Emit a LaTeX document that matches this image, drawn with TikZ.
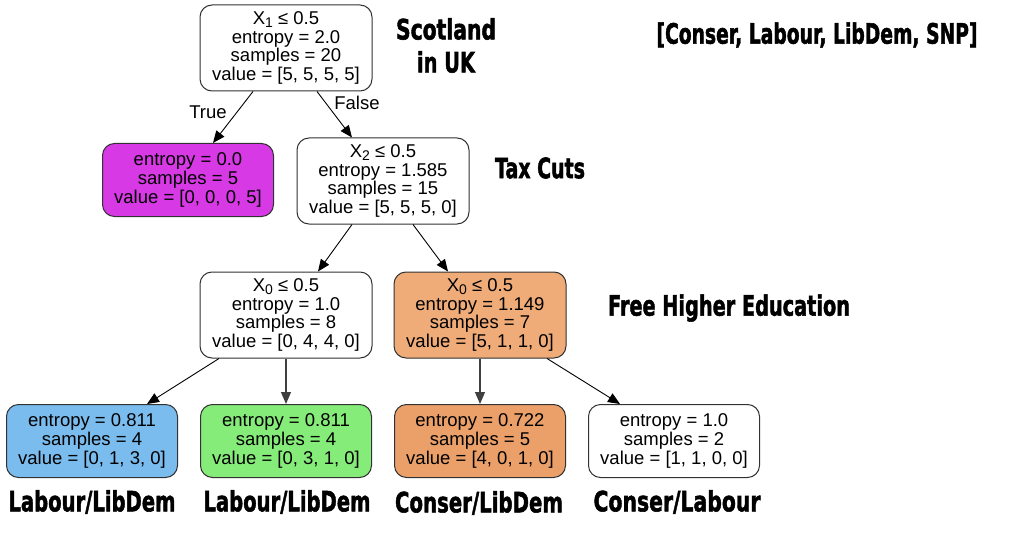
\documentclass[tikz,border=0pt]{standalone}
\usepackage{fontspec}
\usepackage{graphicx}
\setmainfont{Liberation Sans}
\newfontfamily\tagfont[FakeBold=2]{DejaVu Sans}
\usetikzlibrary{arrows.meta}
\definecolor{cpurple}{RGB}{215,57,229}
\definecolor{corangeA}{RGB}{239,172,121}
\definecolor{corangeB}{RGB}{235,160,106}
\definecolor{cblue}{RGB}{123,188,238}
\definecolor{cgreen}{RGB}{134,236,121}
\definecolor{cborder}{RGB}{50,50,50}
\newcommand\Xsub[1]{X\raisebox{-3.5pt}[0pt][0pt]{\fontsize{14}{14}\selectfont #1}}
\newcommand\tagtext[2]{\resizebox{#1pt}{\height}{\tagfont\bfseries #2}}
\tikzset{
  treenode/.style={draw=cborder, line width=1pt, rounded corners=12pt, inner sep=0pt,
    align=center, font=\fontsize{18.5}{18.7}\selectfont},
  inner/.style={treenode, minimum width=172pt, minimum height=86pt},
  leaf/.style={treenode, minimum width=171pt, minimum height=73pt},
  edge/.style={draw=black, line width=0.9pt, -{Triangle[length=12pt,width=10pt]}},
  elabel/.style={font=\fontsize{18.5}{18.7}\selectfont, inner sep=0pt},
  tag/.style={font=\fontsize{28}{28}\selectfont, inner sep=0pt}
}
\begin{document}
\begin{tikzpicture}[x=1pt,y=-1pt]
\useasboundingbox[fill=white] (0,0) rectangle (1024,556);
% tree nodes
\node[inner, fill=white] (root) at (286,48) {\Xsub{1} ≤ 0.5\\entropy = 2.0\\samples = 20\\value = [5, 5, 5, 5]};
\node[leaf, fill=cpurple] (purple) at (188,180) {entropy = 0.0\\samples = 5\\value = [0, 0, 0, 5]};
\node[inner, fill=white] (x2) at (383,181) {\Xsub{2} ≤ 0.5\\entropy = 1.585\\samples = 15\\value = [5, 5, 5, 0]};
\node[inner, fill=white] (x0l) at (286,315) {\Xsub{0} ≤ 0.5\\entropy = 1.0\\samples = 8\\value = [0, 4, 4, 0]};
\node[inner, fill=corangeA] (x0r) at (480,315) {\Xsub{0} ≤ 0.5\\entropy = 1.149\\samples = 7\\value = [5, 1, 1, 0]};
\node[leaf, fill=cblue] (lblue) at (92,441) {entropy = 0.811\\samples = 4\\value = [0, 1, 3, 0]};
\node[leaf, fill=cgreen] (lgreen) at (286,441) {entropy = 0.811\\samples = 4\\value = [0, 3, 1, 0]};
\node[leaf, fill=corangeB] (lorange) at (480,441) {entropy = 0.722\\samples = 5\\value = [4, 0, 1, 0]};
\node[leaf, fill=white] (lwhite) at (674,441) {entropy = 1.0\\samples = 2\\value = [1, 1, 0, 0]};
% edges
\draw[edge] ([xshift=-33pt]root.south) -- ([xshift=25pt]purple.north);
\draw[edge] ([xshift=31pt]root.south) -- ([xshift=-31pt]x2.north);
\draw[edge] ([xshift=-31pt]x2.south) -- ([xshift=32pt]x0l.north);
\draw[edge] ([xshift=30pt]x2.south) -- ([xshift=-32pt]x0r.north);
\draw[edge] ([xshift=-67pt]x0l.south) -- ([xshift=55pt]lblue.north);
\draw[edge, draw=black!75, line width=1.2pt] (x0l.south) -- (lgreen.north);
\draw[edge, draw=black!75, line width=1.2pt] (x0r.south) -- (lorange.north);
\draw[edge] ([xshift=67pt]x0r.south) -- ([xshift=-54pt]lwhite.north);
% edge labels
\node[elabel] (ltrue) at (208,112) {True};
\node[elabel] (lfalse) at (357,103) {False};
% tags
\node[tag] (tscot) at (446,29) {\tagtext{100}{Scotland}};
\node[tag] (tuk) at (446,62) {\tagtext{58}{in UK}};
\node[tag] (tparties) at (817,35) {\tagtext{321}{[Conser, Labour, LibDem, SNP]}};
\node[tag] (ttax) at (540,168) {\tagtext{90}{Tax Cuts}};
\node[tag] (tfree) at (729,308) {\tagtext{242}{Free Higher Education}};
\node[tag] (tl1) at (92,502) {\tagtext{167}{Labour/LibDem}};
\node[tag] (tl2) at (287,502) {\tagtext{167}{Labour/LibDem}};
\node[tag] (tl3) at (479,503) {\tagtext{168}{Conser/LibDem}};
\node[tag] (tl4) at (677,502) {\tagtext{167}{Conser/Labour}};
\end{tikzpicture}
\end{document}
